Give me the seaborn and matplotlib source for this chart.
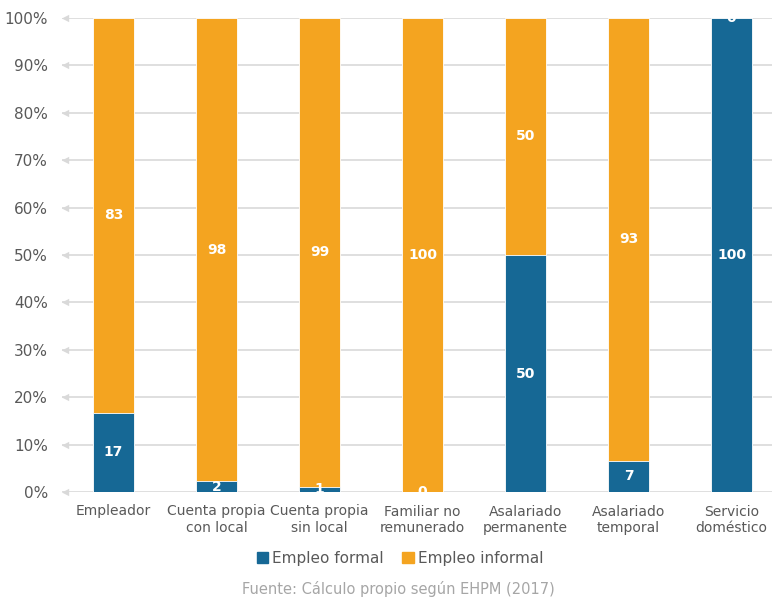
import numpy as np
import pandas as pd
import matplotlib.pyplot as plt
import seaborn as sns

# Data (% of employment by occupational category)
categorias = ["Empleador", "Cuenta propia\ncon local", "Cuenta propia\nsin local",
              "Familiar no\nremunerado", "Asalariado\npermanente", "Asalariado\ntemporal",
              "Servicio\ndoméstico"]
formal = [16.7, 2.3, 1.1, 0.0, 50.0, 6.6, 100.0]
informal = [83.3, 97.7, 98.9, 100.0, 50.0, 93.4, 0.0]
yticks = [0, 10, 20, 30, 40, 50, 60, 70, 80, 90, 100]

azul = "#166895"
naranja = "#F4A420"
gris_txt = "#595959"

df = pd.DataFrame({"categoria": categorias, "formal": formal, "informal": informal})
df["total"] = df["formal"] + df["informal"]

sns.set_style("white")
plt.rcParams["font.family"] = ["DejaVu Sans"]

fig = plt.figure(figsize=(7.72, 5.97), dpi=100)
ax = fig.add_axes([62 / 772, 1 - 492 / 597, 1 - 62 / 772, (492 - 18) / 597])

# stacked bars: total (informal on top) then formal at the base
sns.barplot(data=df, x="categoria", y="total", color=naranja, width=0.4,
            edgecolor="white", linewidth=0.6, saturation=1, ax=ax, zorder=3)
sns.barplot(data=df, x="categoria", y="formal", color=azul, width=0.4,
            edgecolor="white", linewidth=0.6, saturation=1, ax=ax, zorder=3)

# value labels centred in each segment
for i, row in df.iterrows():
    ax.text(i, row["formal"] / 2, f"{row['formal']:.0f}", ha="center", va="center",
            color="white", fontsize=10, fontweight="bold", zorder=5)
    ax.text(i, row["formal"] + row["informal"] / 2, f"{row['informal']:.0f}",
            ha="center", va="center", color="white", fontsize=10,
            fontweight="bold", zorder=5)

ax.set_xlim(-0.5, -0.5 + 710 / 103)
ax.set_ylim(0, 100)
ax.set_yticks(yticks)
ax.set_yticklabels([f"{v}%" for v in yticks])
ax.yaxis.grid(True, color="#d9d9d9", linewidth=1.2, zorder=0)
ax.set_axisbelow(True)
# little arrow heads at the left end of gridlines
ax.scatter(np.full(len(yticks), -0.47), yticks, marker="<", s=28, color="#d9d9d9",
           clip_on=False, zorder=1, linewidths=0)

ax.tick_params(axis="both", length=0, labelsize=10, colors=gris_txt)
ax.tick_params(axis="y", pad=10, labelsize=11)
ax.tick_params(axis="x", pad=9)
ax.set_xlabel("")
ax.set_ylabel("")
sns.despine(ax=ax, left=True, bottom=True)

handles = [plt.Rectangle((0, 0), 1, 1, color=azul),
           plt.Rectangle((0, 0), 1, 1, color=naranja)]
fig.legend(handles, ["Empleo formal", "Empleo informal"], loc="center",
           bbox_to_anchor=(400 / 772, 1 - 558 / 597), ncol=2, frameon=False,
           fontsize=11, handlelength=0.75, handleheight=0.75, handletextpad=0.25,
           columnspacing=1.2, labelcolor=gris_txt)

fig.text(398 / 772, 1 - 589 / 597, "Fuente: Cálculo propio según EHPM (2017)",
         ha="center", va="center", fontsize=10.5, color="#a6a6a6")

fig.savefig("out.png", dpi=100)
